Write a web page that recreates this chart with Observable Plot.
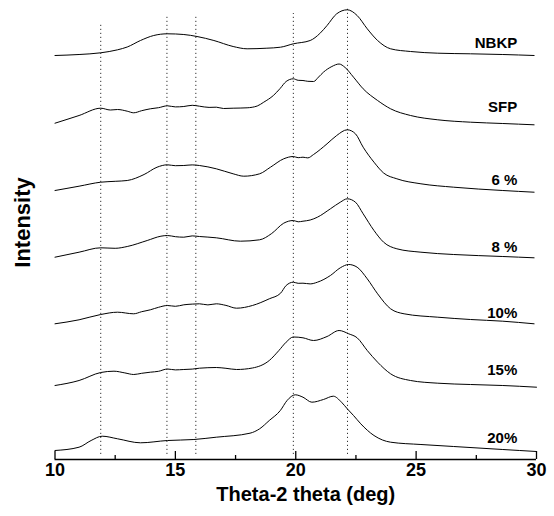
<!DOCTYPE html>
<html>
<head>
<meta charset="utf-8">
<script src="https://cdn.jsdelivr.net/npm/d3@7"></script>
<script src="https://cdn.jsdelivr.net/npm/@observablehq/plot@0.6"></script>
<style>
  html, body { margin: 0; padding: 0; background: #fff; }
  svg { display: block; }
</style>
</head>
<body>
<div id="chart"></div>
<script>
// Diffraction angle (2θ, deg) and stacked intensity (arbitrary units) for each sample
const nbkpTheta = [10.0, 11.0, 11.9, 12.6, 13.0, 13.55, 14.1, 14.67, 15.35, 15.9, 16.6, 17.4, 17.98, 18.8, 19.37, 19.9, 20.6, 21.0, 21.3, 21.7, 22.14, 22.55, 22.97, 23.4, 23.94, 24.77, 25.9, 27.26, 28.6, 29.9];
const nbkpIntensity = [404, 405, 406.7, 409.7, 412.5, 419, 424, 425.7, 425, 423, 419, 413, 410.7, 411.3, 412.3, 415.7, 419, 426, 434, 445.7, 449.7, 444, 430.7, 419, 410.7, 408, 406.3, 405.7, 405, 404];

const sfpTheta = [10.0, 11.0, 11.9, 12.3, 12.6, 13.0, 13.27, 13.6, 13.96, 14.3, 14.67, 15.0, 15.35, 15.7, 16.0, 16.4, 16.7, 17.0, 17.4, 17.98, 18.4, 18.67, 19.07, 19.35, 19.6, 19.9, 20.1, 20.3, 20.5, 20.74, 20.95, 21.15, 21.5, 21.8, 22.05, 22.4, 22.8, 23.4, 23.94, 24.77, 25.9, 27.26, 28.6, 29.9];
const sfpIntensity = [336.3, 344, 351.3, 349.5, 350, 348.3, 346.7, 348.8, 350.7, 351.8, 353.7, 352.6, 353, 354.2, 353.3, 352.1, 352.3, 351.0, 351.3, 351.7, 353.5, 357.3, 364, 371, 378, 380.7, 379.2, 379, 378.2, 378, 382.5, 387.3, 393, 395.5, 392, 382.3, 370.7, 359, 350.7, 344, 339.7, 337.3, 336, 334.7];

const p6Theta = [10.0, 11.0, 11.9, 12.5, 13.0, 13.7, 14.24, 14.67, 15.0, 15.35, 15.7, 16.0, 16.7, 17.4, 17.84, 18.5, 18.95, 19.5, 19.9, 20.1, 20.3, 20.5, 20.74, 21.3, 21.7, 22.14, 22.48, 22.8, 23.25, 23.65, 24.2, 25.2, 26.56, 28.6, 29.9];
const p6Intensity = [269, 273.3, 277.3, 278.2, 279, 285, 292.3, 294.7, 293.8, 294, 294.6, 294, 290.7, 285.7, 283.3, 285.7, 292.3, 300.7, 303, 301.8, 302.3, 301.6, 305, 315.7, 324, 329.7, 325.7, 312.3, 297.3, 286.5, 280.7, 275.7, 272.3, 269, 267.3];

const p8Theta = [10.0, 11.0, 11.9, 12.5, 13.0, 13.83, 14.4, 14.67, 15.0, 15.35, 15.7, 16.0, 16.7, 17.7, 18.5, 19.0, 19.5, 19.9, 20.1, 20.3, 20.6, 20.9, 21.44, 21.85, 22.14, 22.48, 22.8, 23.25, 23.65, 24.2, 25.2, 26.56, 28.6, 29.9];
const p8Intensity = [202.3, 207.3, 211.7, 211.2, 213, 219, 223.3, 224, 222.8, 222.3, 223.6, 223, 221.7, 218.3, 219.7, 226, 236.3, 239, 237.7, 238.3, 239.5, 242.3, 250.7, 257.3, 260.7, 257.3, 245.7, 229, 217.3, 210.7, 207.3, 205, 203, 201.7];

const p10Theta = [10.0, 11.0, 11.9, 12.6, 13.27, 13.6, 13.96, 14.3, 14.67, 15.0, 15.35, 15.7, 16.0, 16.35, 16.7, 17.1, 17.54, 18.2, 18.9, 19.37, 19.6, 19.9, 20.1, 20.3, 20.6, 20.9, 21.44, 21.85, 22.2, 22.55, 22.97, 23.4, 23.94, 24.5, 25.9, 27.26, 28.6, 29.9];
const p10Intensity = [135.7, 139.7, 145, 147.3, 145.7, 147.8, 149.7, 152.2, 154, 153.2, 154.7, 155.4, 155.7, 154.6, 155.7, 154.1, 151.3, 154, 160.7, 166.3, 174, 177.3, 176.2, 176.3, 175.6, 177.3, 184, 191.7, 195, 192.3, 180.7, 165.7, 150.7, 145.7, 142.3, 140, 138.3, 135.7];

const p15Theta = [10.0, 11.0, 11.9, 12.45, 12.9, 13.27, 13.6, 13.96, 14.3, 14.67, 15.0, 15.35, 15.7, 16.0, 16.35, 16.7, 17.1, 17.54, 18.2, 18.9, 19.3, 19.6, 19.9, 20.3, 20.74, 21.3, 21.8, 22.2, 22.55, 22.97, 23.4, 23.94, 24.77, 25.9, 27.26, 28.6, 30.0];
const p15Intensity = [74, 79, 87, 88.3, 86.6, 85, 86.2, 87.3, 88.2, 90.5, 89.6, 90, 90.4, 91.3, 91.8, 92, 91.2, 90, 91.5, 99, 109, 117.3, 122.5, 121.7, 119, 123, 129, 125.7, 121.7, 109, 97.3, 85.7, 79, 76.3, 75, 74, 72.3];

const p20Theta = [10.0, 11.0, 11.5, 11.96, 12.6, 13.55, 14.67, 15.77, 16.7, 18.1, 18.5, 18.9, 19.36, 19.64, 19.98, 20.3, 20.67, 21.15, 21.56, 21.9, 22.14, 22.4, 22.7, 23.25, 23.94, 25.2, 26.56, 28.6, 30.0];
const p20Intensity = [9, 12.3, 19, 23.3, 20.7, 16.7, 19, 20, 22.3, 26.3, 30.7, 39, 49, 59, 64.7, 62.3, 57.3, 60, 63.3, 57.3, 50.7, 44, 35.7, 24, 17.3, 15, 13, 10, 8];

// Sample names and the level at which each name is written
const sampleNames = ["NBKP", "SFP", "6 %", "8 %", "10%", "15%", "20%"];
const labelLevels = [416, 352, 279, 212, 146, 89, 21];

// Reference peak positions (deg) and how high each dotted guide reaches
const peakPositions = [11.9, 14.65, 15.85, 19.9, 22.15];
const peakTops = [435, 444, 444, 446, 453];

// Axis ticks
const majorTicks = [10, 15, 20, 25, 30];
const minorTicks = [12.5, 17.5, 22.5, 27.5];

const series = [
  [sampleNames[0], nbkpTheta, nbkpIntensity],
  [sampleNames[1], sfpTheta, sfpIntensity],
  [sampleNames[2], p6Theta, p6Intensity],
  [sampleNames[3], p8Theta, p8Intensity],
  [sampleNames[4], p10Theta, p10Intensity],
  [sampleNames[5], p15Theta, p15Intensity],
  [sampleNames[6], p20Theta, p20Intensity]
];
const rows = series.flatMap(([name, xs, ys]) => xs.map((t, i) => ({sample: name, theta: t, intensity: ys[i]})));
const labels = sampleNames.map((n, i) => ({label: n, level: labelLevels[i]}));
const guides = peakPositions.map((p, i) => ({theta: p, top: peakTops[i]}));

const font = "'Liberation Sans', Arial, Helvetica, sans-serif";

const chart = Plot.plot({
  width: 554,
  height: 516,
  marginLeft: 54.5,
  marginRight: 18,
  marginTop: 4,
  marginBottom: 57,
  style: {fontFamily: font, background: "#fff", color: "#000"},
  x: {domain: [10, 30]},
  y: {domain: [0, 455], axis: null},
  marks: [
    Plot.ruleX(guides, {x: "theta", y1: 5, y2: "top", stroke: "#333", strokeWidth: 1, strokeDasharray: "1.2,2.8"}),
    Plot.line(rows, {x: "theta", y: "intensity", z: "sample", curve: "monotone-x", stroke: "#000", strokeWidth: 1}),
    Plot.text(labels, {x: () => 29.2, y: "level", text: "label", textAnchor: "end", fontWeight: "bold", fontSize: 15, fill: "#000"}),
    Plot.ruleY([0], {stroke: "#000", strokeWidth: 1.5}),
    Plot.axisX({ticks: majorTicks, tickSize: 0, tickPadding: 4, fontSize: 18, fontWeight: "bold", label: null, tickFormat: d => String(d)}),
    Plot.axisX({ticks: majorTicks, tickSize: -8, tickFormat: () => "", label: null, strokeWidth: 1.3}),
    Plot.axisX({ticks: minorTicks, tickSize: -4, tickFormat: () => "", label: null, strokeWidth: 1.3}),
    Plot.text(["Theta-2 theta (deg)"], {frameAnchor: "bottom", dx: 10, dy: 41, fontSize: 20, fontWeight: "bold", fill: "#000"}),
    Plot.text(["Intensity"], {x: () => 10, y: () => 237, dx: -32, rotate: -90, fontSize: 22, fontWeight: "bold", fill: "#000"})
  ]
});
document.getElementById("chart").appendChild(chart);
</script>
</body>
</html>
